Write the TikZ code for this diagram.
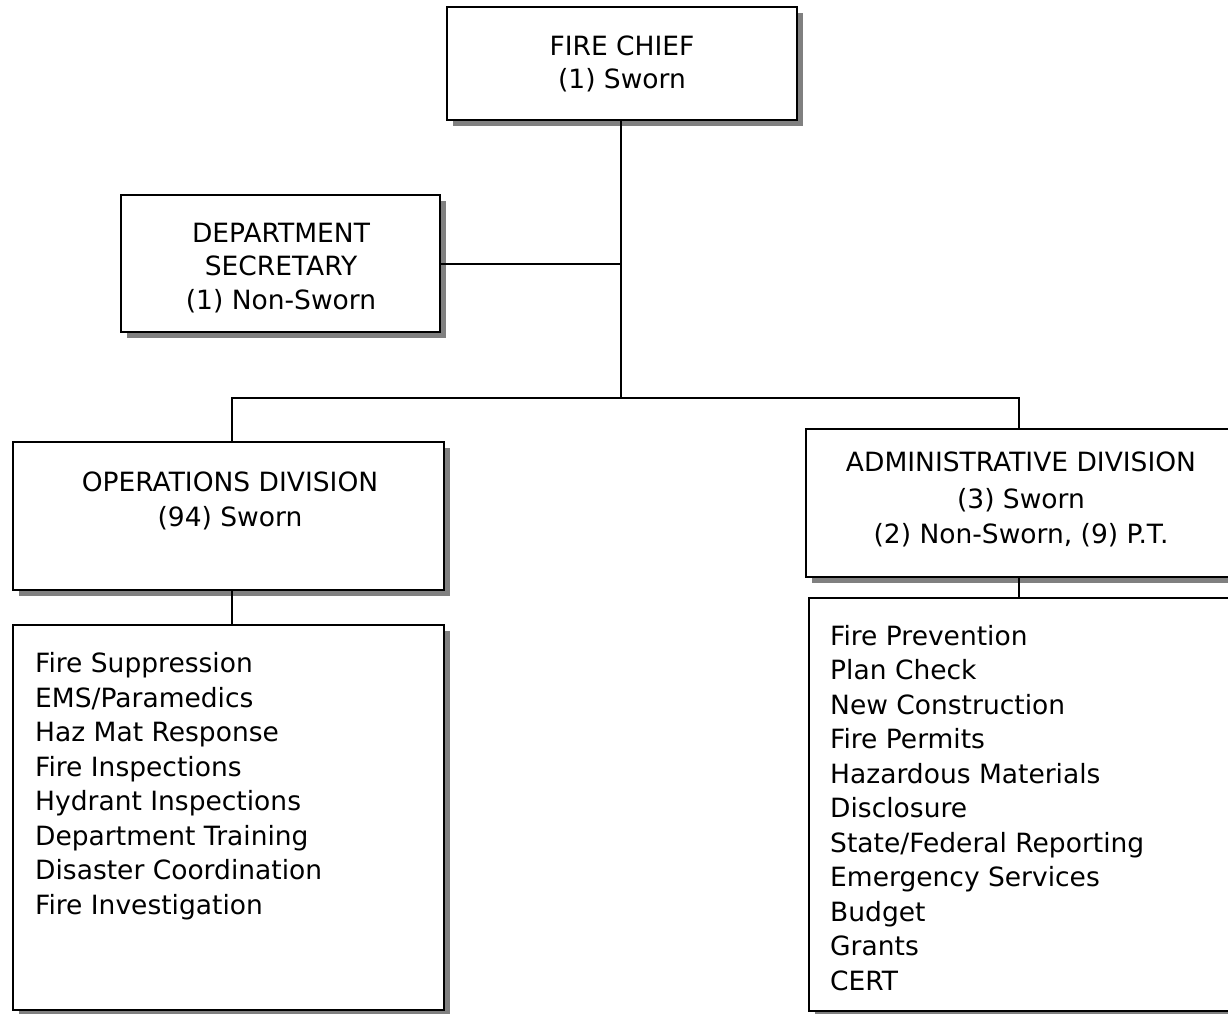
\documentclass[tikz,border=0pt]{standalone}
\usepackage{fontspec}
\setmainfont{DejaVu Sans}
\usetikzlibrary{shadows}
\definecolor{shadowgray}{RGB}{128,128,128}
\tikzset{
  orgbox/.style={draw=black, line width=2pt, fill=white, rectangle, inner sep=0pt,
    drop shadow={shadow xshift=6pt, shadow yshift=-6pt, fill=shadowgray, opacity=1}},
  link/.style={line width=2pt, line cap=rect},
  txt/.style={inner sep=0pt, font=\fontsize{26.5}{34.5}\selectfont},
  headline/.style={txt, anchor=base},
  dutyline/.style={txt, anchor=base west},
}
\begin{document}
\begin{tikzpicture}[x=1pt, y=-1pt]
  \useasboundingbox (0,0) rectangle (1228,1013);
  \clip (0,0) rectangle (1228,1013);

  % boxes
  \node[orgbox, minimum width=350pt, minimum height=113pt] (chief) at (622,63.5) {};
  \node[orgbox, minimum width=319pt, minimum height=137pt] (sec) at (280.5,263.5) {};
  \node[orgbox, minimum width=431pt, minimum height=148pt] (ops) at (228.5,516) {};
  \node[orgbox, minimum width=431pt, minimum height=385pt] (opslist) at (228.5,817.5) {};
  \node[orgbox, minimum width=430pt, minimum height=148pt] (adm) at (1021,503) {};
  \node[orgbox, minimum width=430pt, minimum height=413pt] (admlist) at (1024,804.5) {};

  % connectors
  \coordinate (hub) at (621,398);
  \coordinate (opsdrop) at (232,398);
  \coordinate (admdrop) at (1019,398);
  \draw[link] (chief.south -| hub) -- (hub);
  \draw[link] (sec.east) -- (sec.east -| hub);
  \draw[link] (opsdrop) -- (admdrop);
  \draw[link] (opsdrop) -- (opsdrop |- ops.north);
  \draw[link] (admdrop) -- (admdrop |- adm.north);
  \draw[link] (ops.south -| opsdrop) -- (opsdrop |- opslist.north);
  \draw[link] (adm.south -| admdrop) -- (admdrop |- admlist.north);

  % box titles
  \node[headline] (chief-t1) at (622,55.5) {FIRE CHIEF};
  \node[headline] (chief-t2) at (622,88.5) {(1) Sworn};
  \node[headline] (sec-t1) at (281,242) {DEPARTMENT};
  \node[headline] (sec-t2) at (281,275.5) {SECRETARY};
  \node[headline] (sec-t3) at (281,309) {(1) Non-Sworn};
  \node[headline] (ops-t1) at (230,491) {OPERATIONS DIVISION};
  \node[headline] (ops-t2) at (230,526) {(94) Sworn};
  \node[headline] (adm-t1) at (1021,471.5) {ADMINISTRATIVE DIVISION};
  \node[headline] (adm-t2) at (1021,508.5) {(3) Sworn};
  \node[headline] (adm-t3) at (1021,543.5) {(2) Non-Sworn, (9) P.T.};

  % duty lists
  \foreach \t [count=\i] in {Fire Suppression, EMS/Paramedics, Haz Mat Response,
      Fire Inspections, Hydrant Inspections, Department Training,
      Disaster Coordination, Fire Investigation}
    \node[dutyline] (opsitem-\i) at (35,{672.5+34.5*(\i-1)}) {\t};
  \foreach \t [count=\i] in {Fire Prevention, Plan Check, New Construction,
      Fire Permits, Hazardous Materials, Disclosure, State/Federal Reporting,
      Emergency Services, Budget, Grants, CERT}
    \node[dutyline] (admitem-\i) at (830,{645+34.5*(\i-1)}) {\t};
\end{tikzpicture}
\end{document}
